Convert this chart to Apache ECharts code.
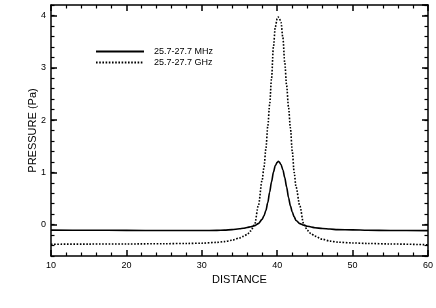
<!DOCTYPE html>
<html>
<head>
<meta charset="utf-8">
<script src="https://cdn.jsdelivr.net/npm/echarts@6/dist/echarts.min.js"></script>
<style>
html,body{margin:0;padding:0;background:#fff;}
#chart{width:436px;height:308px;}
</style>
</head>
<body>
<div id="chart"></div>
<script>
// Data
const distance = [10, 15, 20, 25, 28, 30, 32, 33, 34, 35, 35.5, 36, 36.5, 37, 37.5, 38, 38.25, 38.5, 38.75, 39, 39.25, 39.5, 39.75, 40, 40.15, 40.25, 40.5, 40.75, 41, 41.25, 41.5, 41.75, 42, 42.25, 42.5, 43, 43.5, 44, 44.5, 45, 46, 47, 48, 50, 52, 55, 60];
const pressureMHz = [-0.105, -0.108, -0.11, -0.112, -0.113, -0.113, -0.11, -0.105, -0.095, -0.08, -0.07, -0.055, -0.04, -0.02, 0.02, 0.1, 0.17, 0.27, 0.42, 0.62, 0.82, 1.0, 1.13, 1.19, 1.21, 1.2, 1.15, 1.05, 0.9, 0.72, 0.52, 0.36, 0.24, 0.15, 0.08, 0.02, -0.01, -0.03, -0.045, -0.06, -0.075, -0.085, -0.095, -0.1, -0.108, -0.112, -0.115];
const pressureGHz = [-0.375, -0.372, -0.37, -0.365, -0.36, -0.355, -0.34, -0.325, -0.3, -0.255, -0.225, -0.19, -0.12, 0.0, 0.36, 0.85, 1.1, 1.45, 1.88, 2.3, 2.8, 3.4, 3.78, 3.94, 3.97, 3.96, 3.87, 3.58, 3.1, 2.66, 2.25, 1.85, 1.4, 1.0, 0.72, 0.36, 0.02, -0.11, -0.175, -0.22, -0.28, -0.315, -0.335, -0.35, -0.36, -0.37, -0.385];
const seriesNames = ['25.7-27.7 MHz', '25.7-27.7 GHz'];
const xTicks = [10, 20, 30, 40, 50, 60];
const yTicks = [0, 1, 2, 3, 4];

const FONT = 'Liberation Sans, Arial, sans-serif';
const chart = echarts.init(document.getElementById('chart'), null, {renderer: 'canvas'});

function xAx(pos, labels) {
  return {
    type: 'value', position: pos, min: xTicks[0], max: xTicks[xTicks.length - 1], interval: 10,
    axisLine: {show: true, onZero: false, lineStyle: {color: '#000', width: 1.5}},
    axisTick: {show: true, inside: true, length: 6, lineStyle: {color: '#000', width: 1.5}},
    minorTick: {show: true, splitNumber: 5, length: 3.5, lineStyle: {color: '#000', width: 1.2}},
    axisLabel: {show: labels, color: '#000', fontSize: 9, fontFamily: FONT, margin: 5},
    splitLine: {show: false},
    name: labels ? 'DISTANCE' : '', nameLocation: 'middle', nameGap: 17,
    nameTextStyle: {color: '#000', fontSize: 11, fontFamily: FONT}
  };
}
function yMajor(pos, labels) {
  return {
    type: 'value', position: pos, min: -0.6, max: 4.2, splitNumber: 5,
    axisLine: {show: true, onZero: false, lineStyle: {color: '#000', width: 1.5}},
    axisTick: {show: true, inside: true, length: 6, lineStyle: {color: '#000', width: 1.5}},
    axisLabel: {show: labels, color: '#000', fontSize: 9, fontFamily: FONT, margin: 5,
      showMinLabel: false, showMaxLabel: false,
      formatter: v => (yTicks.indexOf(v) >= 0 ? String(v) : '')},
    splitLine: {show: false},
    name: labels ? 'PRESSURE (Pa)' : '', nameLocation: 'middle', nameGap: 13, nameMoveOverlap: false,
    nameTextStyle: {color: '#000', fontSize: 11, fontFamily: FONT}
  };
}
function yMinor(pos) {
  return {
    type: 'value', position: pos, min: -0.6, max: 4.2, interval: 0.2,
    axisLine: {show: false, onZero: false},
    axisTick: {show: true, inside: true, length: 3.5, lineStyle: {color: '#000', width: 1.2}},
    axisLabel: {show: false},
    splitLine: {show: false}
  };
}

chart.setOption({
  animation: false,
  backgroundColor: '#fff',
  grid: {left: 51, right: 7, top: 5, bottom: 52, containLabel: false},
  legend: {
    orient: 'vertical', left: 90, top: 42, itemWidth: 48, itemHeight: 10, itemGap: 2,
    data: seriesNames,
    itemStyle: {opacity: 0},
    textStyle: {color: '#000', fontSize: 9, fontFamily: FONT, padding: [0, 0, 0, 5]}
  },
  xAxis: [xAx('bottom', true), xAx('top', false)],
  yAxis: [yMajor('left', true), yMinor('left'), yMajor('right', false), yMinor('right')],
  series: [
    {
      name: seriesNames[0], type: 'line', xAxisIndex: 0, yAxisIndex: 0,
      data: distance.map((x, i) => [x, pressureMHz[i]]),
      symbol: 'none', smooth: 0.3, smoothMonotone: 'x',
      lineStyle: {color: '#000', width: 1.6, type: 'solid'}
    },
    {
      name: seriesNames[1], type: 'line', xAxisIndex: 0, yAxisIndex: 0,
      data: distance.map((x, i) => [x, pressureGHz[i]]),
      symbol: 'none', smooth: 0.3, smoothMonotone: 'x',
      lineStyle: {color: '#000', width: 1.6, type: [1.6, 1.6]}
    }
  ]
});
</script>
</body>
</html>
